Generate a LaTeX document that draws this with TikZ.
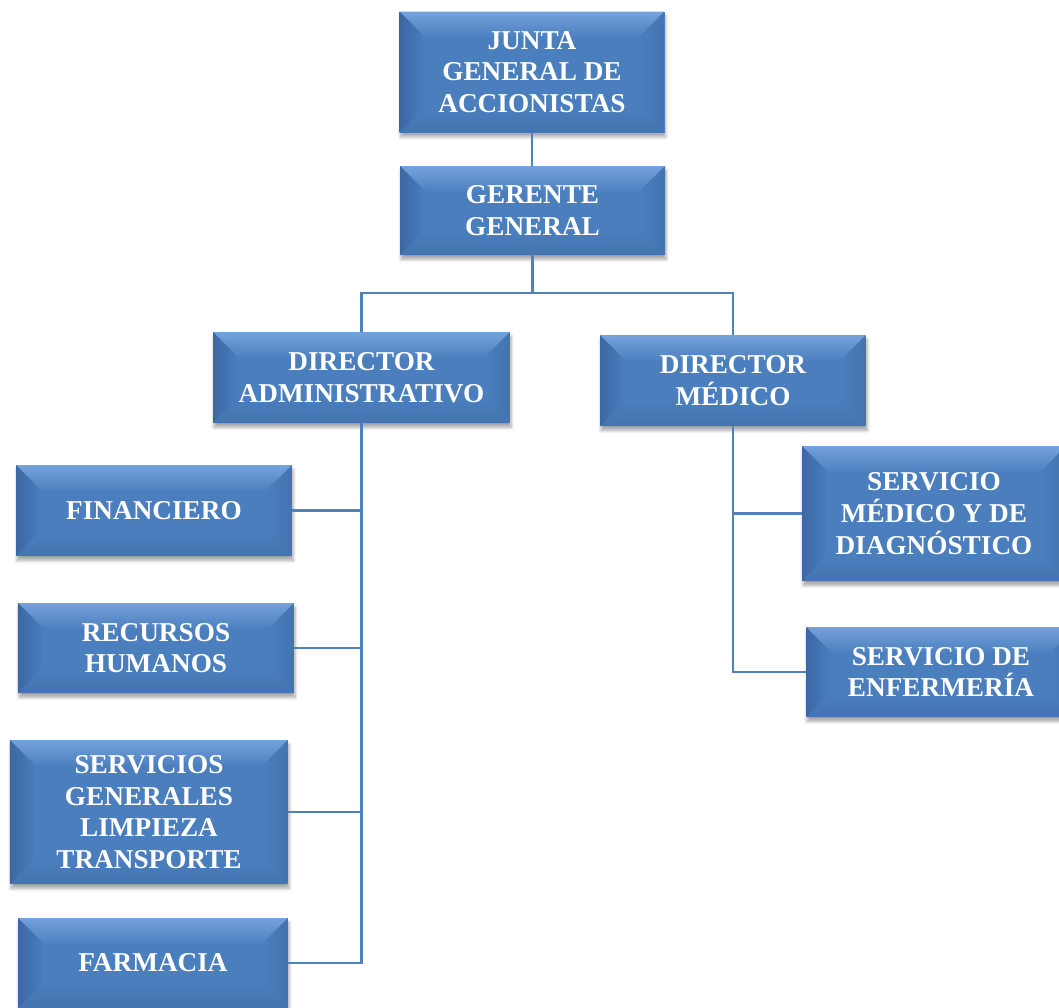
\documentclass[tikz,border=0pt]{standalone}
\usepackage{fontspec}
\setmainfont{Liberation Serif}
\usetikzlibrary{calc,shadows.blur}
\definecolor{bvface}{HTML}{4A7EBD}
\definecolor{bvtop}{HTML}{74A2DC}
\definecolor{bvside}{HTML}{3A68A4}
\definecolor{bvright}{HTML}{4473B0}
\definecolor{bvbottom}{HTML}{4474B0}
\definecolor{connblue}{HTML}{4F81BD}
\tikzset{
	orgbox/.style={
			rectangle, fill=bvface, inner sep=0pt, align=center, text=white,
			font=\fontsize{15.5}{18}\selectfont\bfseries,
			blur shadow={shadow xshift=0.6pt, shadow yshift=-2.5pt, shadow blur steps=6, shadow opacity=35},
			path picture={
					\coordinate (nw) at (path picture bounding box.north west);
					\coordinate (ne) at (path picture bounding box.north east);
					\coordinate (sw) at (path picture bounding box.south west);
					\coordinate (se) at (path picture bounding box.south east);
					% top bevel
					\shade[top color=bvtop, bottom color=bvface!92!bvtop] (nw) -- (ne) -- ($(ne)+(-0.5,-0.5)$) -- ($(nw)+(0.5,-0.5)$) -- cycle;
					% left bevel
					\shade[left color=bvside, right color=bvface] (nw) -- ($(nw)+(0.5,-0.5)$) -- ($(sw)+(0.5,0.5)$) -- (sw) -- cycle;
					% right bevel
					\shade[right color=bvright, left color=bvface] (ne) -- ($(ne)+(-0.5,-0.5)$) -- ($(se)+(-0.5,0.5)$) -- (se) -- cycle;
					% bottom bevel
					\shade[bottom color=bvbottom, top color=bvface] (sw) -- ($(sw)+(0.5,0.5)$) -- ($(se)+(-0.5,0.5)$) -- (se) -- cycle;
				}
		},
	conn/.style={draw=connblue, line width=1.5pt}
}
\begin{document}
\begin{tikzpicture}
			\useasboundingbox (0,0) rectangle (21.18,-20.14);

			% Top levels
			\node[orgbox, minimum width=5.3cm, minimum height=2.42cm] (junta) at (10.64,-1.44) {JUNTA\\GENERAL DE\\ACCIONISTAS};
			\node[orgbox, minimum width=5.3cm, minimum height=1.78cm] (gerente) at (10.65,-4.21) {GERENTE\\GENERAL};

			% Directors
			\node[orgbox, minimum width=5.94cm, minimum height=1.82cm] (diradm) at (7.23,-7.55) {DIRECTOR\\ADMINISTRATIVO};
			\node[orgbox, minimum width=5.32cm, minimum height=1.82cm] (dirmed) at (14.66,-7.61) {DIRECTOR\\MÉDICO};

			% Administrative units
			\node[orgbox, minimum width=5.52cm, minimum height=1.82cm] (financiero) at (3.08,-10.21) {FINANCIERO};
			\node[orgbox, minimum width=5.52cm, minimum height=1.8cm] (rrhh) at (3.12,-12.96) {RECURSOS\\HUMANOS};
			\node[orgbox, minimum width=5.56cm, minimum height=2.88cm] (servgen) at (2.98,-16.24) {SERVICIOS\\GENERALES\\LIMPIEZA\\TRANSPORTE};
			\node[orgbox, minimum width=5.4cm, minimum height=1.8cm] (farmacia) at (3.06,-19.26) {FARMACIA};

			% Medical units
			\node[orgbox, minimum width=5.28cm, minimum height=2.7cm] (servmed) at (18.68,-10.27) {SERVICIO\\MÉDICO Y DE\\DIAGNÓSTICO};
			\node[orgbox, minimum width=5.4cm, minimum height=1.8cm] (servenf) at (18.82,-13.44) {SERVICIO DE\\ENFERMERÍA};

			% Connectors
			\coordinate (bus) at (10.7,-5.86);
			\draw[conn] (junta.south) -- (junta.south |- gerente.north);
			\draw[conn] (gerente.south) -- (gerente.south |- bus);
			\draw[conn] (diradm.north) -- (diradm.north |- bus) -- (dirmed.north |- bus) -- (dirmed.north);

			\draw[conn] (diradm.south) -- (diradm.south |- farmacia.east) -- (farmacia.east);
			\draw[conn] (financiero.east) -- (financiero.east -| diradm.south);
			\draw[conn] (rrhh.east) -- (rrhh.east -| diradm.south);
			\draw[conn] (servgen.east) -- (servgen.east -| diradm.south);

			\draw[conn] (dirmed.south) -- (dirmed.south |- servenf.west) -- (servenf.west);
			\draw[conn] (servmed.west) -- (servmed.west -| dirmed.south);
		\end{tikzpicture}
\end{document}
